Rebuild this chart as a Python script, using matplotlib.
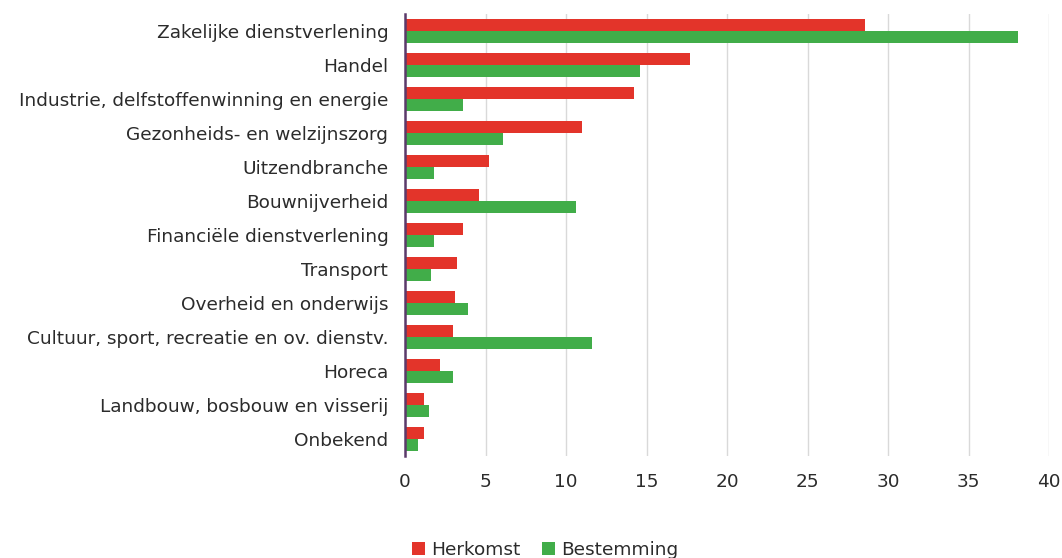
import numpy as np
from matplotlib import pyplot as plt

sectoren = ["Zakelijke dienstverlening", "Handel", "Industrie, delfstoffenwinning en energie",
            "Gezonheids- en welzijnszorg", "Uitzendbranche", "Bouwnijverheid",
            "Financiële dienstverlening", "Transport", "Overheid en onderwijs",
            "Cultuur, sport, recreatie en ov. dienstv.", "Horeca",
            "Landbouw, bosbouw en visserij", "Onbekend"]
herkomst = [28.6, 17.7, 14.2, 11.0, 5.2, 4.6, 3.6, 3.2, 3.1, 3.0, 2.2, 1.2, 1.2]
bestemming = [38.1, 14.6, 3.6, 6.1, 1.8, 10.6, 1.8, 1.6, 3.9, 11.6, 3.0, 1.5, 0.8]

rood = "#e3342a"
groen = "#41ad49"

fig = plt.figure(figsize=(10.62, 5.58), dpi=100)
ax = fig.add_axes([405 / 1062, 1 - 456 / 558, 644 / 1062, 442 / 558])

y = np.arange(len(sectoren))
h = 0.33
ax.barh(y - h / 2 - 0.01, herkomst, height=h, color=rood, label="Herkomst", zorder=3)
ax.barh(y + h / 2 + 0.01, bestemming, height=h, color=groen, label="Bestemming", zorder=3)

ax.set_xlim(0, 40)
ax.set_ylim(len(sectoren) - 0.5, -0.5)
ax.set_xticks(range(0, 41, 5))
ax.set_yticks(y)
ax.set_yticklabels(sectoren)
ax.tick_params(axis="both", length=0, labelsize=13.3, labelcolor="#2b2b2b")
ax.tick_params(axis="x", pad=12)
ax.tick_params(axis="y", pad=12)
ax.grid(axis="x", color="#d9d9d9", linewidth=1, zorder=0)
for s in ["top", "right", "bottom"]:
    ax.spines[s].set_visible(False)
ax.spines["left"].set_color("#5b3a6b")
ax.spines["left"].set_linewidth(1.8)
ax.spines["left"].set_zorder(4)

fig.legend(loc="center", bbox_to_anchor=(545 / 1062, 1 - 550 / 558), ncol=2, frameon=False,
           fontsize=13.3, handlelength=0.7, handleheight=0.7, handletextpad=0.3, columnspacing=1.2,
           labelcolor="#2b2b2b")

fig.savefig("out.png", dpi=100)
